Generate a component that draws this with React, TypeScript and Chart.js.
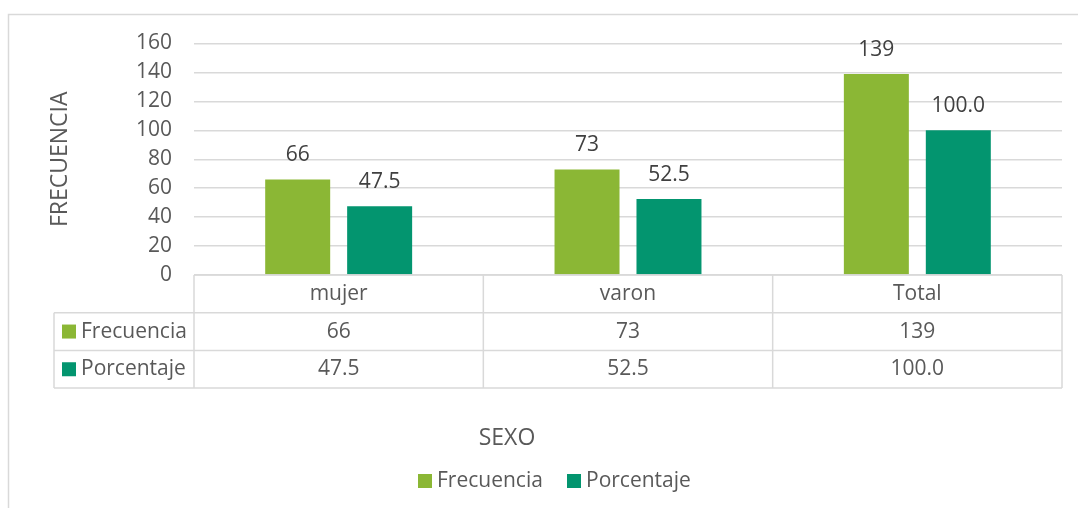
import React, { useEffect, useRef } from "react";
import { Chart, registerables } from "chart.js";

Chart.register(...registerables);

const categories = ["mujer", "varon", "Total"];
const frecuencia = [66, 73, 139];
const porcentaje = [47.5, 52.5, 100.0];
const seriesNames = ["Frecuencia", "Porcentaje"];
const seriesColors = ["#8BB735", "#03956F"];
const yMin = 0;
const yMax = 160;
const yStep = 20;
const yTitle = "FRECUENCIA";
const xTitle = "SEXO";

const FONT = "'Open Sans', sans-serif";
const TEXT = "#595959";
const LABEL = "#404040";
const LINE = "#d9d9d9";

const fmt = (ds: number, v: number) => (ds === 1 ? v.toFixed(1) : String(v));

const extras = {
  id: "excelExtras",
  beforeDraw(chart: any) {
    const ctx = chart.ctx;
    ctx.save();
    ctx.strokeStyle = LINE;
    ctx.lineWidth = 1.5;
    ctx.strokeRect(8.5, 14.5, 1300, 700);
    ctx.restore();
  },
  afterDraw(chart: any) {
    const ctx = chart.ctx;
    const { left, right, bottom, top } = chart.chartArea;
    const n = categories.length;
    const colW = (right - left) / n;
    const rowH = 37.7;
    const tableLeft = 54;
    ctx.save();

    // data labels
    ctx.font = `21px ${FONT}`;
    ctx.fillStyle = LABEL;
    ctx.textAlign = "center";
    ctx.textBaseline = "middle";
    [0, 1].forEach((di) => {
      const meta = chart.getDatasetMeta(di);
      const data = chart.data.datasets[di].data as number[];
      meta.data.forEach((el: any, i: number) => {
        ctx.fillText(fmt(di, data[i]), el.x, el.y - 24);
      });
    });

    // table lines
    ctx.strokeStyle = LINE;
    ctx.lineWidth = 1.5;
    ctx.beginPath();
    ctx.moveTo(left, bottom);
    ctx.lineTo(right, bottom);
    for (let r = 1; r <= 3; r++) {
      ctx.moveTo(tableLeft, bottom + r * rowH);
      ctx.lineTo(right, bottom + r * rowH);
    }
    for (let c = 0; c <= n; c++) {
      ctx.moveTo(left + c * colW, bottom);
      ctx.lineTo(left + c * colW, bottom + 3 * rowH);
    }
    ctx.moveTo(tableLeft, bottom + rowH);
    ctx.lineTo(tableLeft, bottom + 3 * rowH);
    ctx.stroke();

    // table text
    ctx.fillStyle = TEXT;
    ctx.font = `21px ${FONT}`;
    ctx.textAlign = "center";
    categories.forEach((c, i) => {
      ctx.fillText(c, left + (i + 0.5) * colW, bottom + rowH * 0.5);
    });
    [frecuencia, porcentaje].forEach((arr, di) => {
      const cy = bottom + rowH * (di + 1.5);
      arr.forEach((v, i) => {
        ctx.fillText(fmt(di, v), left + (i + 0.5) * colW, cy);
      });
      ctx.fillStyle = seriesColors[di];
      ctx.fillRect(62, cy - 7, 14, 14);
      ctx.fillStyle = TEXT;
      ctx.textAlign = "left";
      ctx.fillText(seriesNames[di], 81, cy);
      ctx.textAlign = "center";
    });

    // y title
    ctx.save();
    ctx.font = `23px ${FONT}`;
    ctx.translate(60, (top + bottom) / 2);
    ctx.rotate(-Math.PI / 2);
    ctx.fillText(yTitle, 0, 0);
    ctx.restore();

    // x title
    ctx.font = `23px ${FONT}`;
    ctx.fillText(xTitle, 507, 438);

    // legend
    ctx.font = `21px ${FONT}`;
    ctx.textAlign = "left";
    const legendX = [418, 567];
    seriesNames.forEach((s, i) => {
      ctx.fillStyle = seriesColors[i];
      ctx.fillRect(legendX[i], 474, 14, 14);
      ctx.fillStyle = TEXT;
      ctx.fillText(s, legendX[i] + 19, 481);
    });
    ctx.restore();
  },
};

export default function App() {
  const ref = useRef<HTMLCanvasElement>(null);
  useEffect(() => {
    document.body.style.margin = "0";
    const canvas = ref.current!;
    const chart = new Chart(canvas, {
      type: "bar",
      data: {
        labels: categories,
        datasets: [
          {
            label: seriesNames[0],
            data: frecuencia,
            backgroundColor: seriesColors[0],
            categoryPercentage: 0.5665,
            barPercentage: 0.793,
          },
          {
            label: seriesNames[1],
            data: porcentaje,
            backgroundColor: seriesColors[1],
            categoryPercentage: 0.5665,
            barPercentage: 0.793,
          },
        ],
      },
      options: {
        animation: false,
        responsive: false,
        devicePixelRatio: 1,
        layout: { padding: { top: 43.5, bottom: 233, left: 0, right: 16 } },
        plugins: { legend: { display: false }, tooltip: { enabled: false } },
        scales: {
          x: { display: false },
          y: {
            min: yMin,
            max: yMax,
            ticks: {
              stepSize: yStep,
              padding: 22,
              color: TEXT,
              font: { family: FONT, size: 21 },
            },
            grid: { color: LINE, lineWidth: 1.5, drawTicks: false },
            border: { display: false },
            afterFit: (s: any) => {
              s.width = 194;
            },
          },
        },
      },
      plugins: [extras],
    });
    return () => chart.destroy();
  }, []);
  return <canvas ref={ref} width={1078} height={508} style={{ display: "block" }} />;
}
